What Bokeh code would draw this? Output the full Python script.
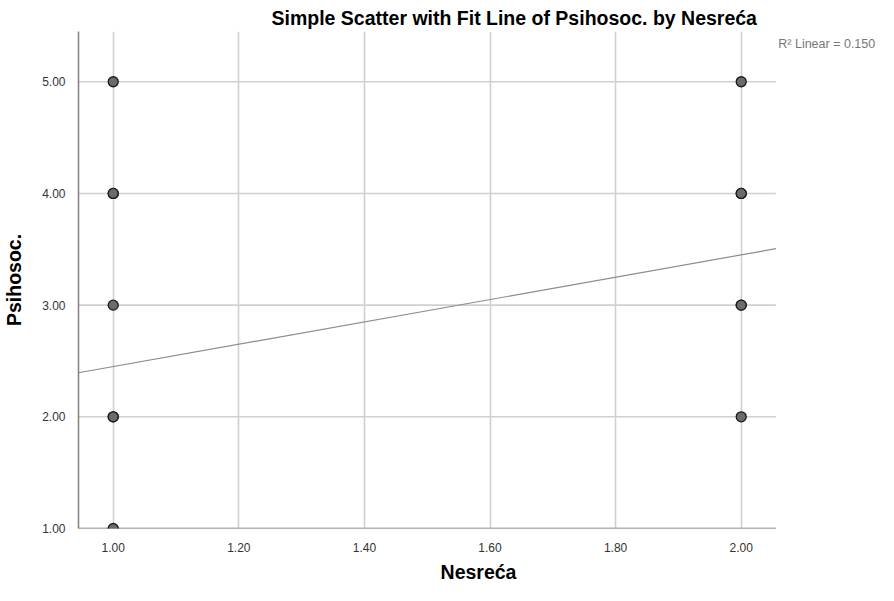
from bokeh.plotting import figure
from bokeh.models import FixedTicker, NumeralTickFormatter, Range1d, Label
from bokeh.embed import file_html
from bokeh.resources import INLINE

# Data
nesreca = [1, 1, 1, 1, 1, 1, 1, 2, 2, 2, 2, 2, 2]
psihosoc = [1, 2, 2, 3, 4, 4, 5, 2, 3, 3, 4, 4, 5]
x_ticks = [1.0, 1.2, 1.4, 1.6, 1.8, 2.0]
y_ticks = [1, 2, 3, 4, 5]
fit_intercept = 1.45
fit_slope = 1.0
r2_text = "R\u00b2 Linear = 0.150"
title_text = "Simple Scatter with Fit Line of Psihosoc. by Nesre\u0107a"

FONT = "Liberation Sans"
# axis extent of the chart; the frame is widened to the right so the R² note fits
x_lo, x_end, x_hi = 0.9447, 2.0553, 2.2186
y_lo, y_hi = 1.0, 5.45

p = figure(width=878, height=585, output_backend="svg", toolbar_location=None,
           x_range=Range1d(x_lo, x_hi), y_range=Range1d(y_lo, y_hi),
           min_border_left=72, min_border_right=0, min_border_top=31, min_border_bottom=51)

p.title.text = title_text
p.title.text_font = FONT
p.title.text_font_style = "bold"
p.title.text_font_size = "19.5px"
p.title.text_color = "black"
p.title.align = "left"
p.title.offset = 193
p.title.standoff = 6

p.outline_line_color = None
p.background_fill_color = "white"
p.border_fill_color = "white"

for ax in (p.xaxis[0], p.yaxis[0]):
    ax.major_tick_line_color = None
    ax.minor_tick_line_color = None
    ax.axis_line_color = "#808080"
    ax.axis_line_width = 1.5
    ax.major_label_text_font = FONT
    ax.major_label_text_font_size = "12px"
    ax.major_label_text_color = "#333333"
    ax.axis_label_text_font = FONT
    ax.axis_label_text_font_style = "bold"
    ax.axis_label_text_font_size = "19.5px"
    ax.axis_label_text_color = "black"
    ax.formatter = NumeralTickFormatter(format="0.00")

p.xaxis.axis_line_color = None
p.xaxis.ticker = FixedTicker(ticks=x_ticks)
p.yaxis.ticker = FixedTicker(ticks=y_ticks)
p.xaxis.axis_label = "Nesre\u0107a"
p.yaxis.axis_label = "Psihosoc."
p.xaxis.major_label_standoff = 8
p.yaxis.major_label_standoff = 7
p.xaxis.axis_label_standoff = 6
p.yaxis.axis_label_standoff = 14

GRID = "#d0d0d0"
p.xgrid.grid_line_color = GRID
p.xgrid.grid_line_width = 1.6
p.xgrid.ticker = FixedTicker(ticks=x_ticks)
p.ygrid.grid_line_color = None

# horizontal grid lines and bottom axis line, limited to the chart's extent
p.segment(x0=[x_lo] * len(y_ticks), x1=[x_end] * len(y_ticks), y0=y_ticks, y1=y_ticks,
          line_color=GRID, line_width=1.6)
p.segment(x0=[x_lo], x1=[x_end], y0=[y_lo], y1=[y_lo], line_color="#808080", line_width=1.5)

fx = [x_lo, x_end]
fy = [fit_intercept + fit_slope * v for v in fx]
p.line(fx, fy, line_color="#8c8c8c", line_width=1.2)

p.scatter(nesreca, psihosoc, size=10, fill_color="#6b6b6b", line_color="#1a1a1a", line_width=1.3)

p.add_layout(Label(x=2.059, y=5.34, text=r2_text, text_font=FONT, text_font_size="12.5px",
                   text_color="#777777", text_align="left", text_baseline="middle"))

open("out.html", "w").write(file_html(p, INLINE))
